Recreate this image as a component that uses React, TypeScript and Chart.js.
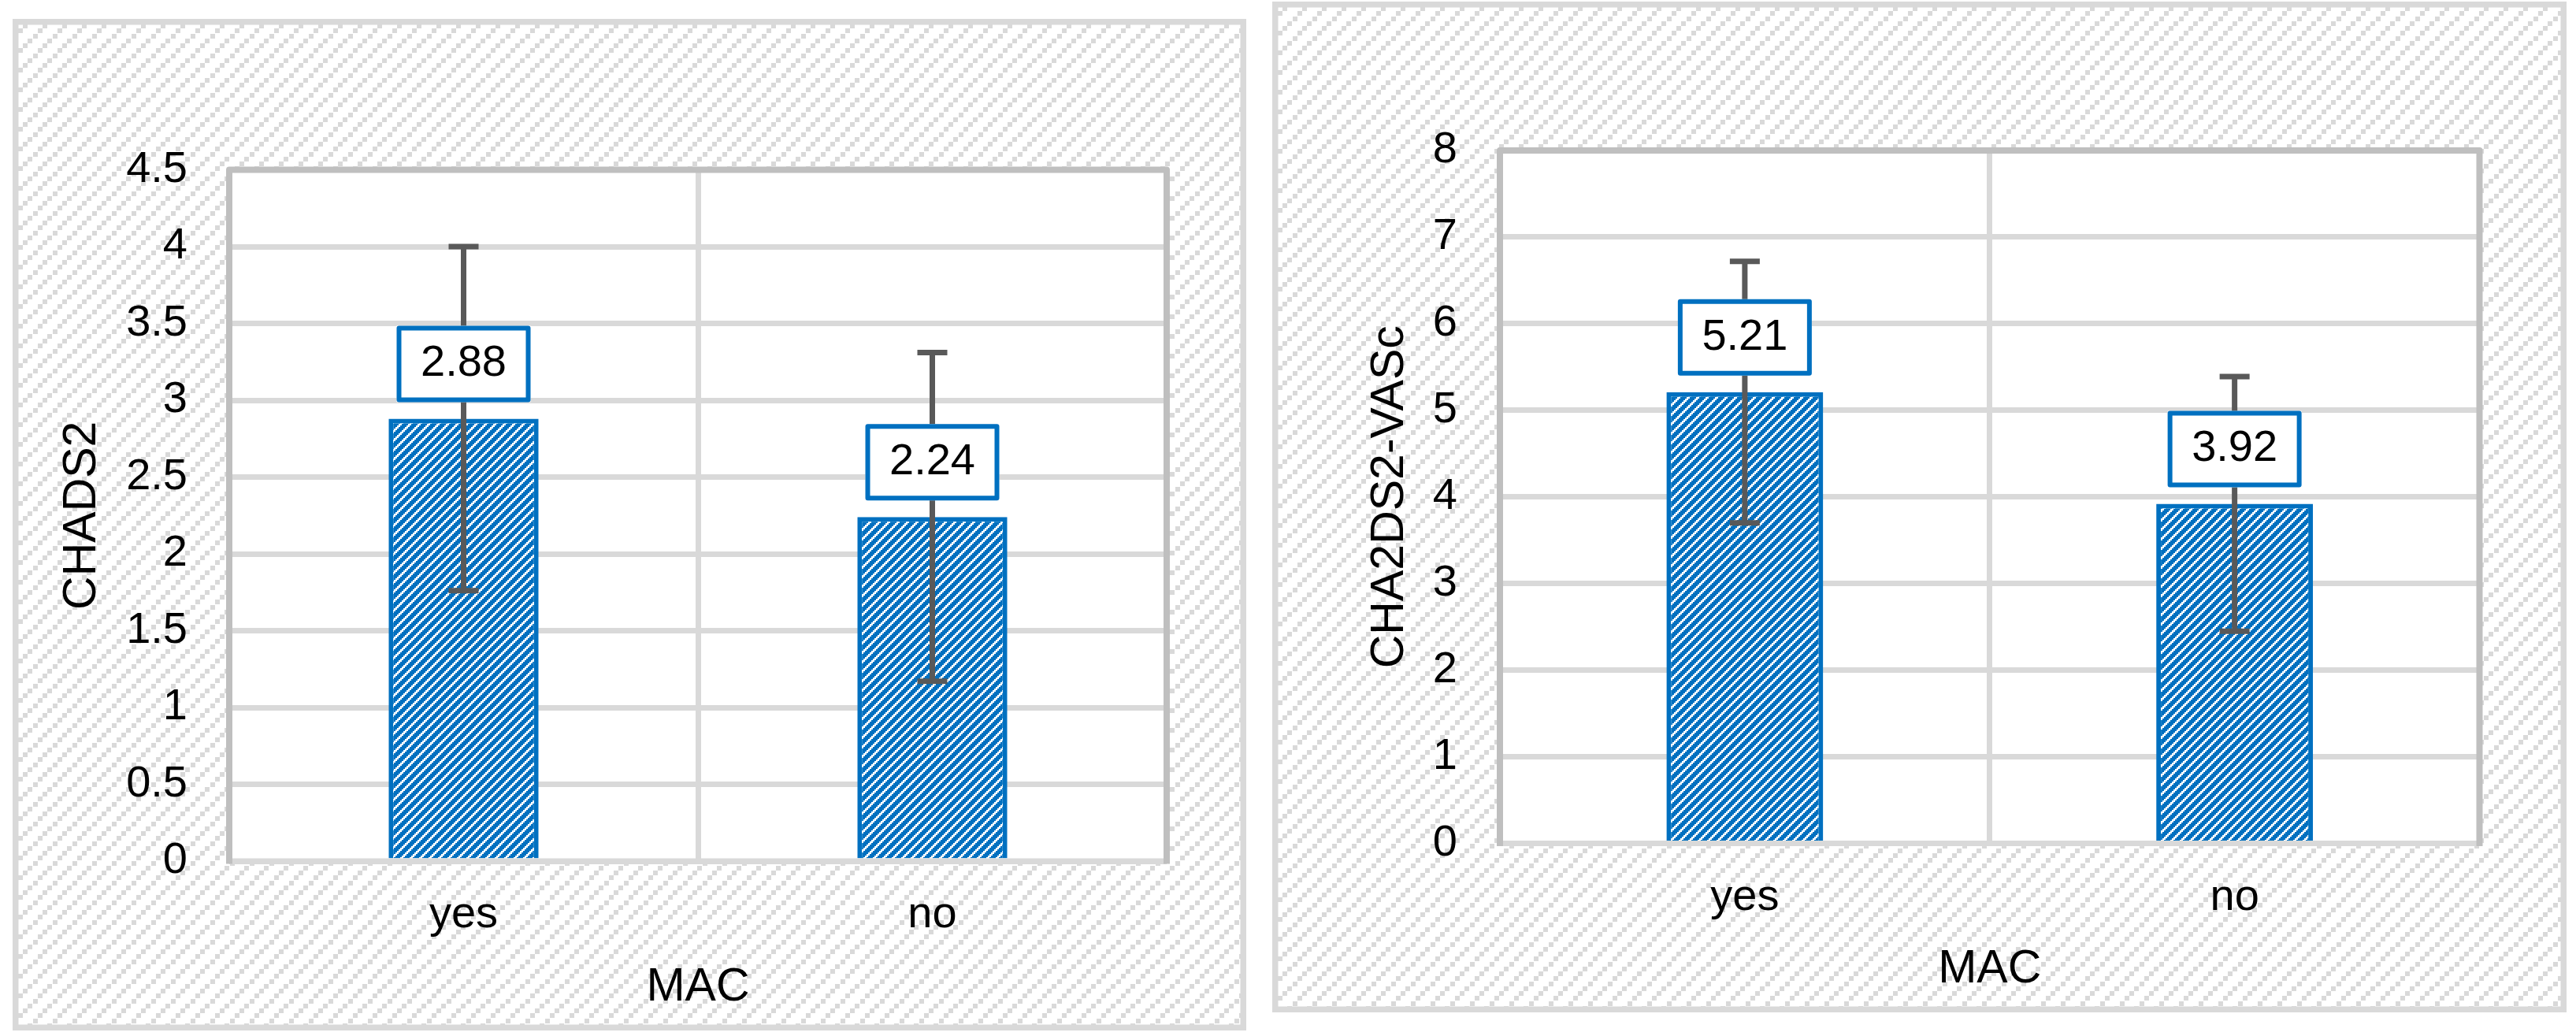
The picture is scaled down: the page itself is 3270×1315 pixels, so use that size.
import React, { useEffect, useRef } from "react";
import { Chart, registerables } from "chart.js";

Chart.register(...registerables);

// ---------- data ----------
const categories = ["yes", "no"];
const chadsMeans = [2.88, 2.24];
const chadsSD = [1.12, 1.07];
const vascMeans = [5.21, 3.92];
const vascSD = [1.51, 1.47];
const chadsAxis = [0, 4.5, 0.5]; // min, max, step
const vascAxis = [0, 8, 1];
const chadsTitle = "CHADS2";
const vascTitle = "CHA2DS2-VASc";
const xTitle = "MAC";

// ---------- style ----------
const FONT = "'Liberation Sans', Arial, Helvetica, sans-serif";
const BLUE = "#0070c0";
const GRID = "#d9d9d9";
const FRAME = "#bfbfbf";
const ERR = "#595959";
const TICK_SIZE = 56;
const TITLE_SIZE = 59;

function makeBgPattern(ctx: CanvasRenderingContext2D) {
  const t = document.createElement("canvas");
  t.width = 25;
  t.height = 25;
  const c = t.getContext("2d")!;
  c.fillStyle = "#ffffff";
  c.fillRect(0, 0, 25, 25);
  c.fillStyle = GRID;
  const pts = [
    [19, 0],
    [13, 6],
    [7, 12],
    [1, 19],
  ];
  pts.forEach(([x, y]) => c.fillRect(x, y, 6, 6));
  return ctx.createPattern(t, "repeat")!;
}

function makeBarPattern(ctx: CanvasRenderingContext2D) {
  const t = document.createElement("canvas");
  t.width = 12;
  t.height = 12;
  const c = t.getContext("2d")!;
  c.fillStyle = "#ffffff";
  c.fillRect(0, 0, 12, 12);
  c.fillStyle = BLUE;
  for (let x = 0; x < 12; x += 2) {
    for (let y = 0; y < 12; y += 2) {
      if ((x + y) % 12 < 7) c.fillRect(x, y, 2, 2);
    }
  }
  return ctx.createPattern(t, "repeat")!;
}

type PanelCfg = {
  left: number;
  top: number;
  width: number;
  height: number;
  areaLeft: number;
  areaTop: number;
  padRight: number;
  xAxisH: number;
  yTickPad: number;
  yTitlePad: number;
  xTickPad: number;
  xTitlePad: number;
};

const leftPanel: PanelCfg = {
  left: 16,
  top: 24,
  width: 1566,
  height: 1284,
  areaLeft: 275,
  areaTop: 191.5,
  padRight: 101,
  xAxisH: 215,
  yTickPad: 53,
  yTitlePad: 53.5,
  xTickPad: 35,
  xTitlePad: 19,
};

const rightPanel: PanelCfg = {
  left: 1615,
  top: 2,
  width: 1643,
  height: 1283,
  areaLeft: 289,
  areaTop: 189,
  padRight: 110.5,
  xAxisH: 214.5,
  yTickPad: 54,
  yTitlePad: 114,
  xTickPad: 35,
  xTitlePad: 19,
};

function makePanelPlugin(means: number[], sd: number[], bgPattern: CanvasPattern) {
  return {
    id: "panelDeco",
    beforeDraw(chart: any) {
      const { ctx, width, height, chartArea: a } = chart;
      ctx.save();
      ctx.fillStyle = bgPattern;
      ctx.fillRect(0, 0, width, height);
      ctx.fillStyle = "#ffffff";
      ctx.fillRect(a.left, a.top, a.right - a.left, a.bottom - a.top);
      ctx.strokeStyle = GRID;
      ctx.lineWidth = 7.5;
      ctx.strokeRect(3.75, 3.75, width - 7.5, height - 7.5);
      ctx.restore();
    },
    afterDatasetsDraw(chart: any) {
      const { ctx, chartArea: a } = chart;
      const yScale = chart.scales.y;
      ctx.save();
      // axis line and frame
      ctx.strokeStyle = GRID;
      ctx.lineWidth = 7;
      ctx.beginPath();
      ctx.moveTo(a.left, a.bottom);
      ctx.lineTo(a.right, a.bottom);
      ctx.stroke();
      ctx.strokeStyle = FRAME;
      ctx.lineWidth = 8;
      ctx.lineJoin = "round";
      ctx.beginPath();
      ctx.moveTo(a.left, a.bottom + 3.5);
      ctx.lineTo(a.left, a.top);
      ctx.lineTo(a.right, a.top);
      ctx.lineTo(a.right, a.bottom + 3.5);
      ctx.stroke();

      const meta = chart.getDatasetMeta(0);
      // error bars
      ctx.strokeStyle = ERR;
      ctx.lineWidth = 7;
      ctx.lineCap = "butt";
      meta.data.forEach((bar: any, i: number) => {
        const yt = yScale.getPixelForValue(means[i] + sd[i]);
        const yb = yScale.getPixelForValue(means[i] - sd[i]);
        ctx.beginPath();
        ctx.moveTo(bar.x, yt);
        ctx.lineTo(bar.x, yb);
        ctx.moveTo(bar.x - 19, yt);
        ctx.lineTo(bar.x + 19, yt);
        ctx.moveTo(bar.x - 19, yb);
        ctx.lineTo(bar.x + 19, yb);
        ctx.stroke();
      });
      // data labels
      const w = 170;
      const h = 97;
      const bw = 6;
      meta.data.forEach((bar: any, i: number) => {
        const bottom = bar.y - 21;
        const x0 = bar.x - w / 2;
        const y0 = bottom - h;
        ctx.fillStyle = "#ffffff";
        ctx.fillRect(x0, y0, w, h);
        ctx.strokeStyle = BLUE;
        ctx.lineWidth = bw;
        ctx.lineJoin = "round";
        ctx.strokeRect(x0 + bw / 2, y0 + bw / 2, w - bw, h - bw);
        ctx.fillStyle = "#000000";
        ctx.font = `${TICK_SIZE}px ${FONT}`;
        ctx.textAlign = "center";
        ctx.textBaseline = "middle";
        ctx.fillText(means[i].toFixed(2), bar.x, y0 + h / 2);
      });
      ctx.restore();
    },
  };
}

function BarPanel(props: {
  cfg: PanelCfg;
  means: number[];
  sd: number[];
  axis: number[];
  yTitle: string;
}) {
  const { cfg, means, sd, axis, yTitle } = props;
  const ref = useRef<HTMLCanvasElement | null>(null);

  useEffect(() => {
    const canvas = ref.current!;
    const ctx = canvas.getContext("2d")!;
    const bg = makeBgPattern(ctx);
    const barPat = makeBarPattern(ctx);
    const chart = new Chart(canvas, {
      type: "bar",
      data: {
        labels: categories,
        datasets: [
          {
            data: means,
            backgroundColor: barPat,
            borderColor: BLUE,
            borderWidth: 6,
            borderSkipped: "start",
            barPercentage: 0.32,
            categoryPercentage: 1,
          },
        ],
      },
      options: {
        responsive: false,
        animation: false,
        devicePixelRatio: 1,
        layout: {
          padding: { left: 0, top: cfg.areaTop, right: cfg.padRight, bottom: 0 },
        },
        plugins: {
          legend: { display: false },
          tooltip: { enabled: false },
          title: { display: false },
        },
        scales: {
          x: {
            type: "category",
            offset: true,
            grid: {
              display: true,
              offset: true,
              color: GRID,
              lineWidth: 7,
              drawTicks: false,
            },
            border: { display: false },
            ticks: {
              color: "#000000",
              font: { family: FONT, size: TICK_SIZE },
              padding: cfg.xTickPad,
              maxRotation: 0,
            },
            title: {
              display: true,
              text: xTitle,
              color: "#000000",
              font: { family: FONT, size: TITLE_SIZE },
              padding: { top: 0, bottom: cfg.xTitlePad },
            },
            afterFit: (s: any) => {
              s.height = cfg.xAxisH;
            },
          },
          y: {
            type: "linear",
            min: axis[0],
            max: axis[1],
            grid: {
              color: GRID,
              lineWidth: 7,
              drawTicks: false,
            },
            border: { display: false },
            ticks: {
              stepSize: axis[2],
              color: "#000000",
              font: { family: FONT, size: TICK_SIZE },
              padding: cfg.yTickPad,
              callback: (v: any) => String(Math.round(Number(v) * 100) / 100),
            },
            title: {
              display: true,
              text: yTitle,
              color: "#000000",
              font: { family: FONT, size: TITLE_SIZE },
              padding: { top: cfg.yTitlePad, bottom: 0 },
            },
            afterFit: (s: any) => {
              s.width = cfg.areaLeft;
            },
          },
        },
      },
      plugins: [makePanelPlugin(means, sd, bg)],
    } as any);
    return () => chart.destroy();
  }, []);

  return (
    <canvas
      ref={ref}
      width={cfg.width}
      height={cfg.height}
      style={{
        position: "absolute",
        left: cfg.left,
        top: cfg.top,
        width: cfg.width,
        height: cfg.height,
        display: "block",
      }}
    />
  );
}

export default function App() {
  return (
    <div
      style={{
        position: "absolute",
        left: 0,
        top: 0,
        width: 3270,
        height: 1315,
        background: "#ffffff",
        overflow: "hidden",
      }}
    >
      <BarPanel cfg={leftPanel} means={chadsMeans} sd={chadsSD} axis={chadsAxis} yTitle={chadsTitle} />
      <BarPanel cfg={rightPanel} means={vascMeans} sd={vascSD} axis={vascAxis} yTitle={vascTitle} />
    </div>
  );
}
